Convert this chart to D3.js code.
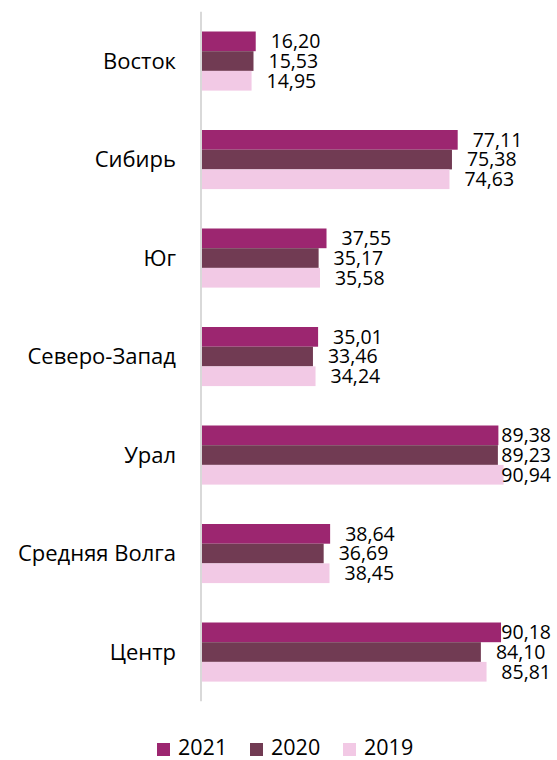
<!DOCTYPE html>
<html><head><meta charset="utf-8">
<script src="https://cdn.jsdelivr.net/npm/d3@7"></script>
<style>body{margin:0;background:#fff}svg{display:block}text{font-family:"Open Sans","Noto Sans",sans-serif;fill:#000}</style>
</head><body><svg id="c" width="557" height="760"></svg>
<script>
const categories = ["Восток","Сибирь","Юг","Северо-Запад","Урал","Средняя Волга","Центр"];
const seriesNames = ["2021","2020","2019"];
const values2021 = [16.20,77.11,37.55,35.01,89.38,38.64,90.18];
const values2020 = [15.53,75.38,35.17,33.46,89.23,36.69,84.10];
const values2019 = [14.95,74.63,35.58,34.24,90.94,38.45,85.81];
const colors = ["#9c2670","#713b53","#f2c9e5"];

const seriesValues = [values2021, values2020, values2019];
const svg = d3.select("#c");
const x0 = 202;
const x = d3.scaleLinear().domain([0,100]).range([x0, x0+331.6]);
const y = d3.scaleBand().domain(categories).range([11.8, 701.3]).paddingInner(0.4).paddingOuter(0.2);
const yi = d3.scaleBand().domain(seriesNames).range([0, y.bandwidth()]);
const fmt = v => v.toFixed(2).replace(".", ",");

const g = svg.append("g");
categories.forEach((c, ci) => {
  seriesNames.forEach((s, si) => {
    const v = seriesValues[si][ci];
    g.append("rect").attr("x", x(0)).attr("y", y(c)+yi(s))
      .attr("width", x(v)-x(0)).attr("height", yi.bandwidth()).attr("fill", colors[si]);
  });
});
// axis line
svg.append("line").attr("x1",201).attr("x2",201).attr("y1",y.range()[0]).attr("y2",y.range()[1])
  .attr("stroke","#d9d9d9").attr("stroke-width",2);
// category labels
svg.selectAll("text.cat").data(categories).join("text").attr("class","cat")
  .attr("x",176).attr("y",d=>y(d)+y.bandwidth()/2).attr("dy","0.35em")
  .attr("text-anchor","end").style("font-size","22px").text(d=>d);
// value labels
categories.forEach((c, ci) => {
  seriesNames.forEach((s, si) => {
    const v = seriesValues[si][ci];
    const t = svg.append("text").attr("y", y(c)+yi(s)+yi.bandwidth()/2).attr("dy","0.35em")
      .style("font-size","19.5px").text(fmt(v));
    const w = t.node().getComputedTextLength();
    t.attr("x", Math.min(x(v)+15, 551-w));
  });
});
// legend
const lx = [157, 250, 343];
seriesNames.forEach((s, si) => {
  svg.append("rect").attr("x", lx[si]).attr("y", 743).attr("width", 13).attr("height", 13).attr("fill", colors[si]);
  svg.append("text").attr("x", lx[si]+21).attr("y", 755).style("font-size","21.5px").text(s);
});
</script></body></html>
